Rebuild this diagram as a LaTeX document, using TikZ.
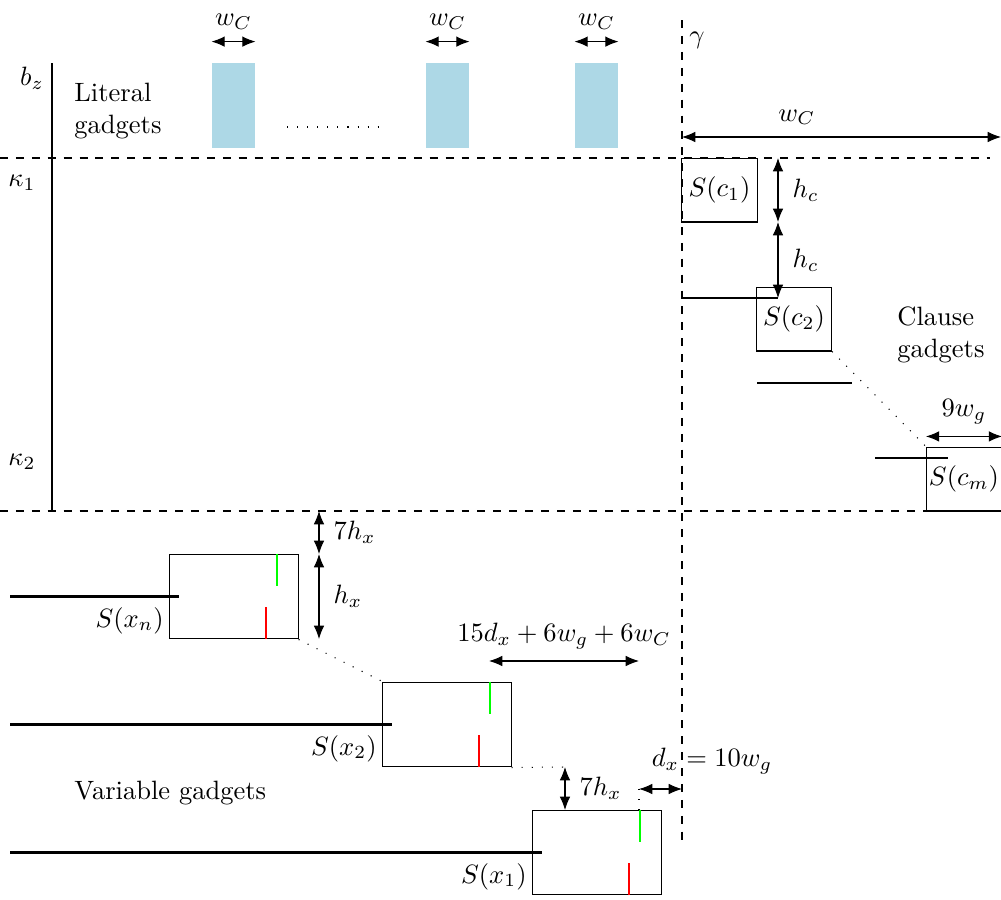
\documentclass[tikz,border=0pt]{standalone}
\usepackage{amsmath}
\usepackage{amssymb}
\usetikzlibrary{arrows.meta,positioning}
\definecolor{litblue}{RGB}{173,216,230}
\tikzset{
  clausebox/.style={draw,thin,minimum width=28.3pt,minimum height=24.1pt,inner sep=0pt},
  varbox/.style={draw,thin,minimum width=48.3pt,minimum height=32pt,inner sep=0pt},
  litbox/.style={fill=litblue,minimum width=16.2pt,minimum height=32pt,inner sep=0pt},
  dim/.style={thin,{Latex[length=5pt,width=4pt]}-{Latex[length=5pt,width=4pt]}},
  wire/.style={thick},
  gap/.style={dash pattern=on 0.4pt off 3.4pt},
}
\begin{document}
\begin{tikzpicture}[x=0.377pt,y=-0.377pt]
\useasboundingbox (0,0) rectangle (1001,899);
% frame lines
\coordinate (gtop) at (682,20);
\coordinate (gbot) at (682,843);
\coordinate (k1l) at (0,158);
\coordinate (k1r) at (990,158);
\coordinate (k2l) at (0,511);
\coordinate (k2r) at (1001,511);
\coordinate (axtop) at (52,63);
\coordinate (axbot) at (52,511);
\draw[dashed] (gtop) -- (gbot);
\draw[dashed] (k1l) -- (k1r);
\draw[dashed] (k2l) -- (k2r);
\draw[thick] (axtop) -- (axbot);
\node (bz) at (32,78) {$b_z$};
\node (kap1) at (22,183) {$\kappa_1$};
\node (kap2) at (22,462) {$\kappa_2$};
\node (gam) at (697,40) {$\gamma$};
% literal gadgets
\node[align=left,anchor=west] (littext) at (65,111) {Literal\\gadgets};
\node[litbox] (lit1) at (233.5,105.5) {};
\node[litbox] (lit2) at (447.5,105.5) {};
\node[litbox] (lit3) at (596.5,105.5) {};
\foreach \l in {lit1,lit2,lit3} {
  \draw[dim] ([yshift=7.9pt]\l.north west) -- ([yshift=7.9pt]\l.north east)
    node[midway,above=1pt] {$w_C$};
}
\coordinate (dl) at (287,127);
\coordinate (dr) at (387,127);
\draw[gap] (dl) -- (dr);
% clause gadgets
\node[clausebox] (c1) at (719.5,190) {$S(c_1)$};
\node[clausebox] (c2) at (794,319) {$S(c_2)$};
\node[clausebox] (cm) at (964,479) {$S(c_m)$};
\coordinate (wcl) at (682,137);
\coordinate (wcr) at (1001,137);
\draw[dim] (wcl) -- (wcr) node[pos=0.36,above=1pt] {$w_C$};
\coordinate (hc1) at (778,158);
\coordinate (hc2) at (778,222);
\coordinate (hc3) at (778,298);
\draw[dim] (hc1) -- (hc2) node[midway,right=2pt] {$h_c$};
\draw[dim] (hc2) -- (hc3) node[midway,right=2pt] {$h_c$};
\draw[wire] (682,298) -- (778,298);
\draw[wire] (757,383) -- (852,383);
\draw[wire] (875,458) -- (948,458);
\draw[gap] (c2.south east) -- (cm.north west);
\draw[dim] ([yshift=3.8pt]cm.north west) -- ([yshift=3.8pt]cm.north east)
  node[midway,above=1pt] {$9w_g$};
\node[align=left,anchor=west] (cltext) at (888,335) {Clause\\gadgets};
% variable gadgets
\node[varbox] (xn) at (234,596.5) {};
\node[varbox] (x2) at (447,724.5) {};
\node[varbox] (x1) at (597,852.5) {};
\foreach \v in {xn,x2,x1} {
  \draw[green,thick] ([xshift=-8.3pt]\v.north east) -- ++(0,32);
  \draw[red,thick] ([xshift=-12.4pt]\v.south east) -- ++(0,-32);
  \draw[wire] (10,0 |- \v.center) -- ([xshift=3.8pt]\v.west);
}
\node[anchor=south east,inner sep=2pt] at (xn.south west) {$S(x_n)$};
\node[anchor=south east,inner sep=2pt] at (x2.south west) {$S(x_2)$};
\node[anchor=south east,inner sep=2pt] at (x1.south west) {$S(x_1)$};
\draw[gap] (xn.south east) -- (x2.north west);
\coordinate (gx2) at (565,767);
\draw[gap] (x2.south east) -- (gx2);
\coordinate (hx1) at (319,511);
\coordinate (hx2) at (319,554);
\coordinate (hx3) at (319,639);
\draw[dim] (hx1) -- (hx2) node[midway,right=2pt] {$7h_x$};
\draw[dim] (hx2) -- (hx3) node[midway,right=2pt] {$h_x$};
\coordinate (sl) at (489,661);
\coordinate (sr) at (639,661);
\draw[dim] (sl) -- (sr) node[midway,above=1pt] {$15d_x+6w_g+6w_C$};
\coordinate (vx1) at (565,810);
\draw[dim] (gx2) -- (vx1) node[midway,right=2pt] {$7h_x$};
\coordinate (dxl) at (639,789);
\coordinate (dxr) at (682,789);
\draw[dim] (dxl) -- (dxr);
\draw[gap] (dxl) -- (dxl |- x1.north);
\node (dxtext) at (712,761) {$d_x=10w_g$};
\node[anchor=west] (vartext) at (65,793) {Variable gadgets};
\end{tikzpicture}
\end{document}
